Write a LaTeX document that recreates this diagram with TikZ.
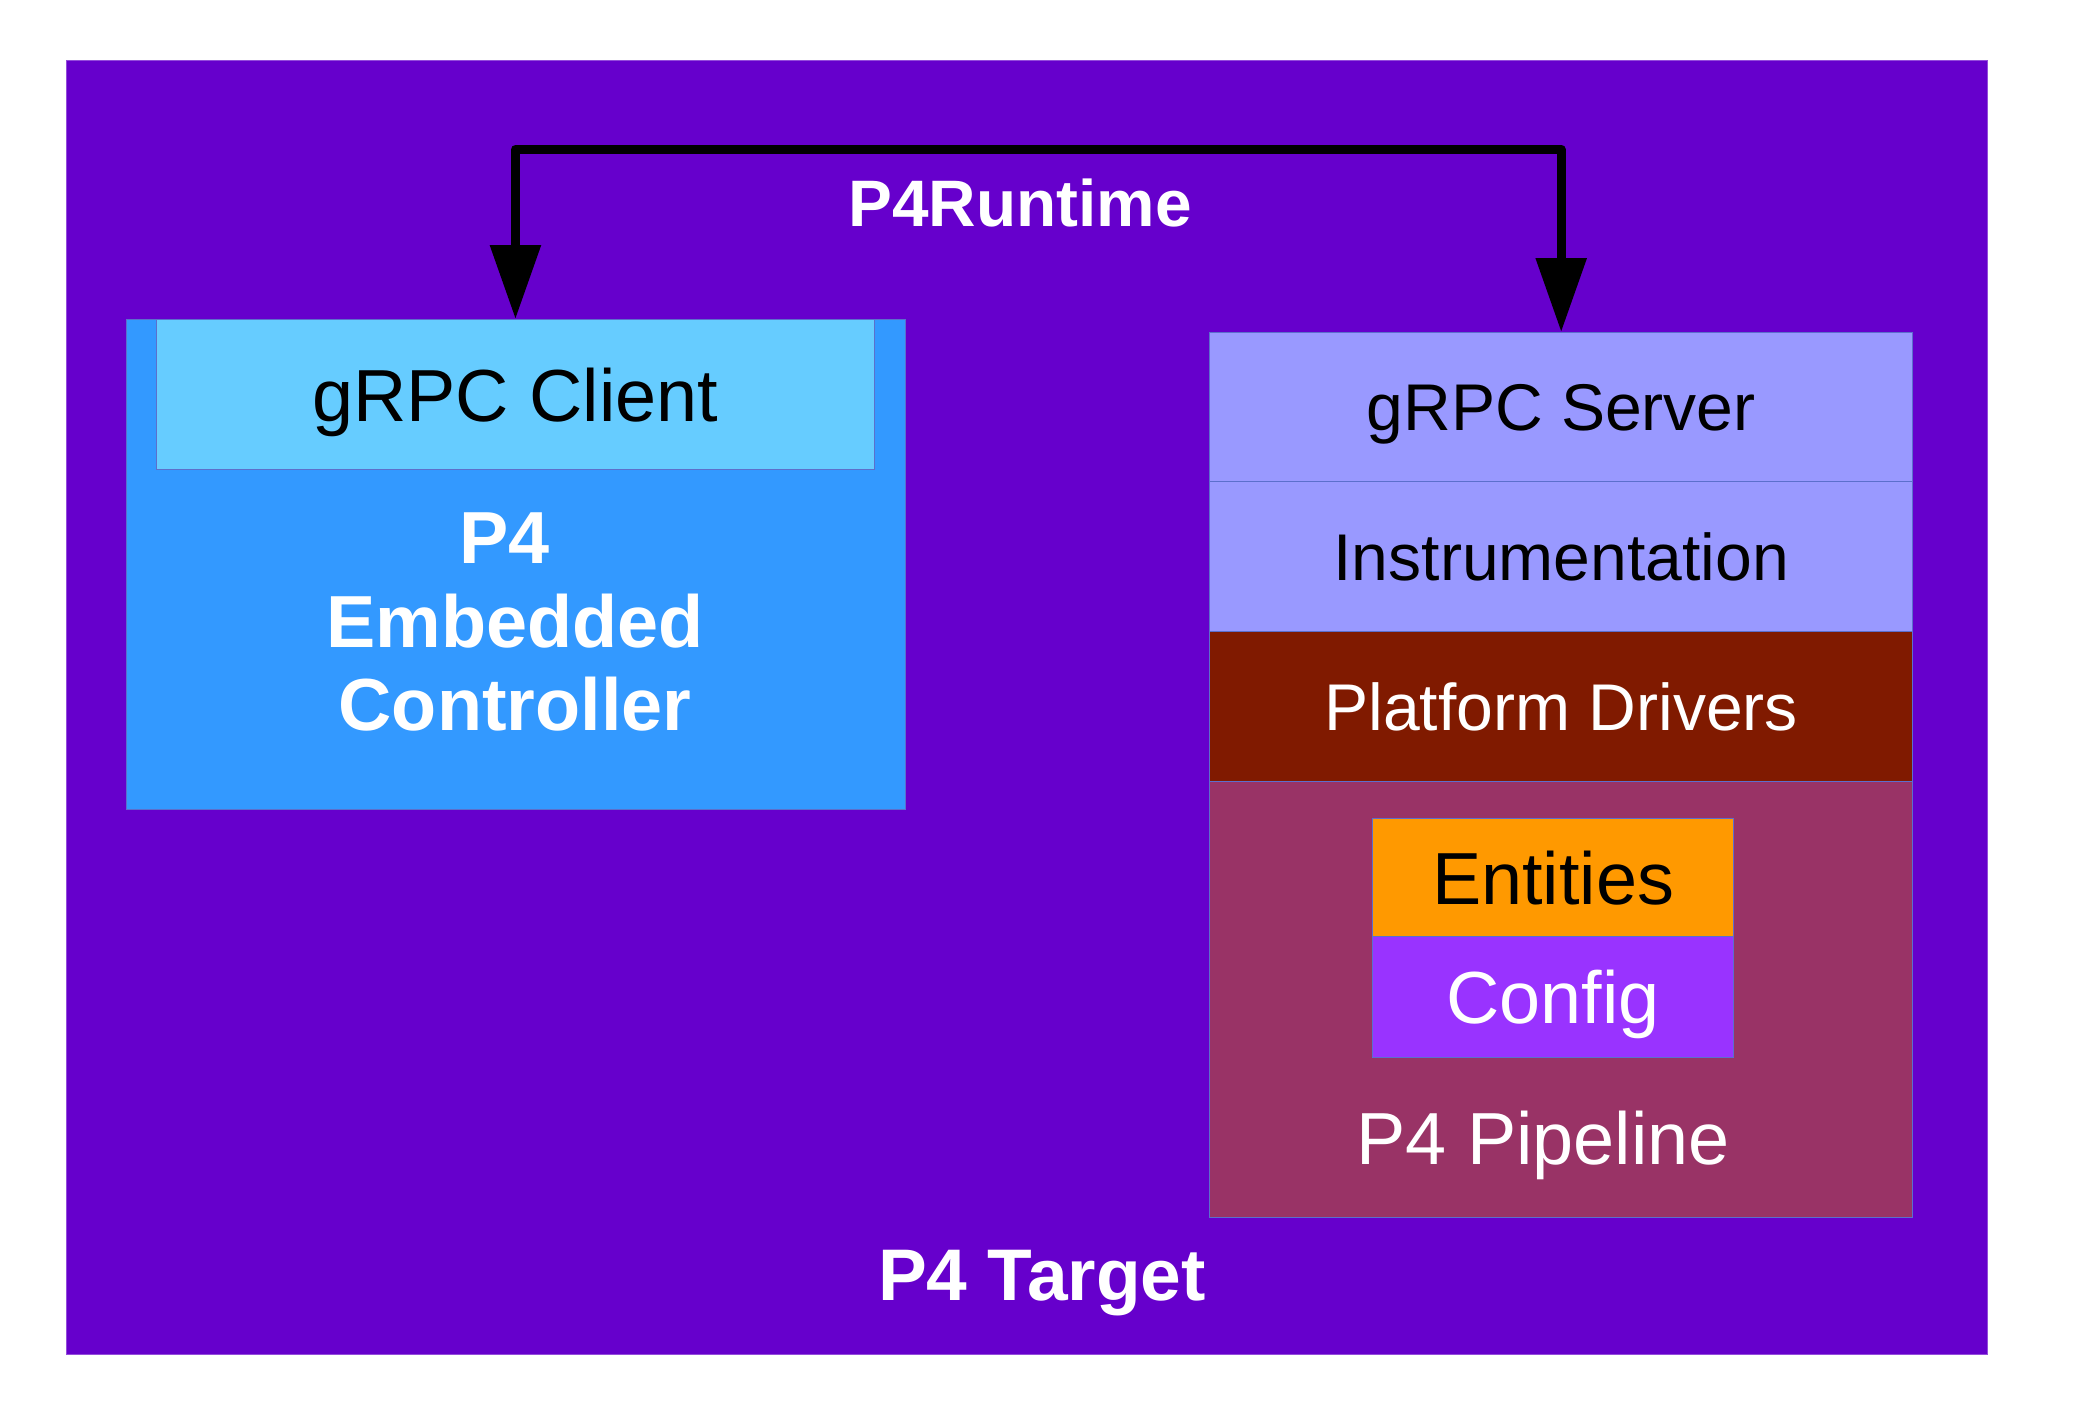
\documentclass[tikz,border=0pt]{standalone}
\usepackage{fontspec}
\setmainfont{Liberation Sans}
\usetikzlibrary{arrows.meta,positioning}

\definecolor{targetpurple}{HTML}{6600CC}
\definecolor{ctrlblue}{HTML}{3399FF}
\definecolor{clientblue}{HTML}{66CCFF}
\definecolor{serverlilac}{HTML}{9999FF}
\definecolor{drivermaroon}{HTML}{801A00}
\definecolor{pipeplum}{HTML}{993366}
\definecolor{entorange}{HTML}{FF9900}
\definecolor{cfgviolet}{HTML}{9933FF}
\definecolor{edgeline}{HTML}{5C6FCC}

\tikzset{
  layer/.style={draw=edgeline, line width=0.4pt, inner sep=0pt, anchor=north west, text depth=0pt},
  small/.style={font=\fontsize{18.8}{22}\selectfont},
  large/.style={font=\fontsize{21}{24}\selectfont},
  rpc/.style={line width=2.6pt, line join=round,
    {Triangle[length=7.4mm,width=4.9mm]}-{Triangle[length=7.4mm,width=4.9mm]}}
}

\begin{document}
\begin{tikzpicture}
  \useasboundingbox (0,0) rectangle (21,-14.25);
  % the target
  \node[layer, draw=targetpurple!70!white, fill=targetpurple, minimum width=19.21cm, minimum height=12.94cm] (target) at (0.655,-0.595) {};
  \node[font=\fontsize{20.8}{24}\bfseries, text=white] (targetlbl) at (10.42,-12.83) {P4 Target};

  % controller side
  \node[layer, fill=ctrlblue, minimum width=7.79cm, minimum height=4.90cm] (ctrl) at (1.26,-3.19) {};
  \node[layer, fill=clientblue, minimum width=7.185cm, minimum height=1.50cm, large] (client) at (1.555,-3.19) {gRPC Client};
  \node[align=center, text=white, font=\fontsize{21}{23.7}\bfseries] (ctrllbl) at (5.15,-6.22) {P4\kern0.28em\\Embedded\\Controller};

  % switch side
  \node[layer, fill=serverlilac, minimum width=7.03cm, minimum height=1.49cm, small] (server) at (12.09,-3.32) {gRPC Server};
  \node[layer, fill=serverlilac, minimum width=7.03cm, minimum height=1.50cm, small] (instr) at (12.09,-4.81) {Instrumentation};
  \node[layer, fill=drivermaroon, text=white, minimum width=7.03cm, minimum height=1.50cm, small] (drivers) at (12.09,-6.31) {Platform Drivers};
  \node[layer, fill=pipeplum, minimum width=7.03cm, minimum height=4.36cm] (pipe) at (12.09,-7.81) {};
  \node[layer, fill=entorange, minimum width=3.61cm, minimum height=1.18cm, large] (entities) at (13.72,-8.18) {Entities};
  \node[layer, fill=cfgviolet, text=white, minimum width=3.61cm, minimum height=1.21cm, large] (config) at (13.72,-9.36) {Config};
  \node[large, text=white] (pipelbl) at (15.43,-11.45) {P4 Pipeline};

  % runtime link
  \coordinate (bend) at (10.4,-1.495);
  \draw[rpc] (client.north) |- (bend) -| (server.north);
  \node[font=\fontsize{18.7}{22}\bfseries, text=white] (rpclbl) at (10.20,-2.03) {P4Runtime};
\end{tikzpicture}
\end{document}
